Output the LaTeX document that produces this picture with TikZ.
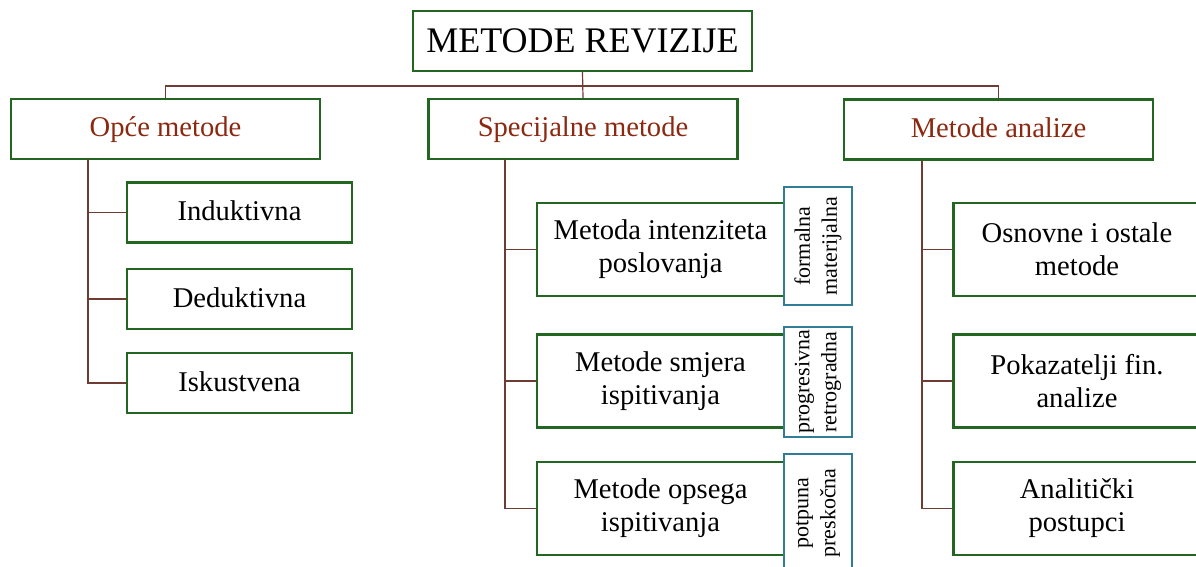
\documentclass[tikz,border=0pt]{standalone}
\usepackage{fontspec}
\setmainfont{Liberation Serif}
\usepackage{tikz}
\usetikzlibrary{calc}

\definecolor{boxgreen}{RGB}{34,102,34}
\definecolor{linebrown}{RGB}{110,60,50}
\definecolor{headred}{RGB}{140,40,15}
\definecolor{sideteal}{RGB}{49,125,150}

\tikzset{
  rootbox/.style={draw=boxgreen, line width=1.1pt, minimum width=169.5pt, minimum height=30pt,
    font=\fontsize{18}{21}\selectfont},
  headbox/.style={draw=boxgreen, line width=1.1pt, minimum width=154.5pt, minimum height=30pt,
    text height=10.5pt, text depth=2.5pt, text=headred, font=\fontsize{14.3}{16.5}\selectfont},
  leafbox/.style={draw=boxgreen, line width=1.1pt, minimum width=112.5pt, minimum height=30pt,
    text height=10.5pt, text depth=2.5pt, font=\fontsize{14.3}{16.5}\selectfont},
  tallbox/.style={draw=boxgreen, line width=1.1pt, minimum width=123.5pt, minimum height=46.5pt,
    align=center, font=\fontsize{14.3}{16.5}\selectfont},
  sidebox/.style={draw=sideteal, line width=0.6pt, rotate=90, minimum width=59pt, minimum height=34pt,
    align=center, inner sep=1pt, font=\fontsize{11}{13.5}\selectfont},
  link/.style={draw=linebrown, line width=0.6pt}
}

\begin{document}
\begin{tikzpicture}[x=0.5pt, y=-0.5pt]
\clip (0,0) rectangle (1196,567);
% top
\node[rootbox] (root) at (582.5,41) {METODE REVIZIJE};
\node[headbox] (opce) at (165.5,129) {Opće metode};
\node[headbox] (spec) at (583,129) {Specijalne metode};
\node[headbox] (anal) at (998.5,129.5) {Metode analize};
\coordinate (bus) at (582.5,86);
\draw[link] (root.south) -- (spec.north);
\draw[link] (opce.north) |- (bus) -| (anal.north);

% opce metode
\node[leafbox] (ind) at (239.5,212.5) {Induktivna};
\node[leafbox] (ded) at (239.5,299) {Deduktivna};
\node[leafbox] (isk) at (239.5,383) {Iskustvena};
\coordinate (opceT) at (88,159);
\draw[link] (opceT) |- (isk.west);
\draw[link] (ind.west) -- (ind.west -| opceT);
\draw[link] (ded.west) -- (ded.west -| opceT);

% specijalne metode
\node[tallbox] (intenz) at (660.5,249.5) {Metoda intenziteta\\poslovanja};
\node[tallbox] (smjer) at (660.5,381) {Metode smjera\\ispitivanja};
\node[tallbox] (opseg) at (660.5,508.5) {Metode opsega\\ispitivanja};
\node[sidebox] (intenzS) at (818,246) {formalna\\materijalna};
\node[sidebox, minimum width=55pt] (smjerS) at (818,382) {progresivna\\retrogradna};
\node[sidebox] (opsegS) at (818,513) {potpuna\\preskočna};
\coordinate (specT) at (505,159);
\draw[link] (specT) |- (opseg.west);
\draw[link] (intenz.west) -- (intenz.west -| specT);
\draw[link] (smjer.west) -- (smjer.west -| specT);

% metode analize
\node[tallbox] (osn) at (1077,249.5) {Osnovne i ostale\\metode};
\node[tallbox] (pok) at (1077,381) {Pokazatelji fin.\\analize};
\node[tallbox] (ana) at (1077,508.5) {Analitički\\postupci};
\coordinate (analT) at (922,160);
\draw[link] (analT) |- (ana.west);
\draw[link] (osn.west) -- (osn.west -| analT);
\draw[link] (pok.west) -- (pok.west -| analT);
\end{tikzpicture}
\end{document}
